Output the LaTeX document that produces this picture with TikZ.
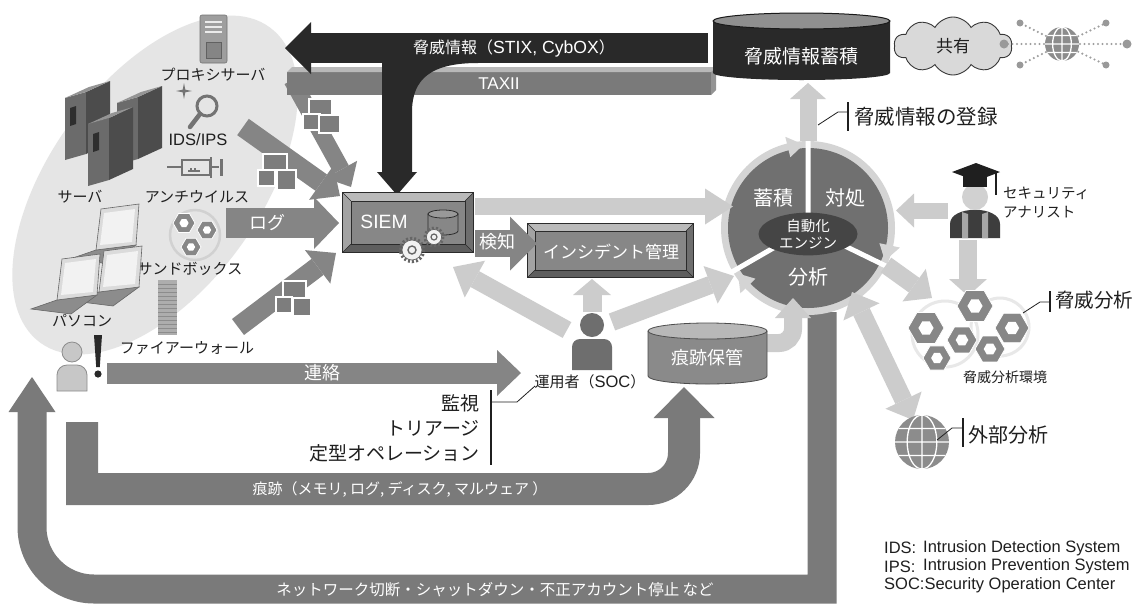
\documentclass[tikz,border=0pt]{standalone}
\usepackage{fontspec}
\setmainfont{Noto Sans CJK JP}
\newfontfamily\lat{Liberation Sans}[Scale=1.1]
\usetikzlibrary{arrows.meta,shapes.geometric,shapes.symbols,calc}

\colorlet{zone}{black!10}
\colorlet{ink}{black!88}
\colorlet{blk}{black!84}
\colorlet{midg}{black!48}
\colorlet{dkg}{black!52}
\colorlet{lightg}{black!20}
\colorlet{circg}{black!56}
\colorlet{ringg}{black!17}
\colorlet{engg}{black!73}
\colorlet{boxg}{black!47}
\colorlet{bvT}{black!27}
\colorlet{bvL}{black!36}
\colorlet{bvR}{black!57}
\colorlet{bvB}{black!63}
\colorlet{edge}{black!83}
\colorlet{iconc}{black!55}
\colorlet{nutc}{black!47}
\colorlet{logc}{black!51}
\colorlet{globec}{black!45}

\newcommand\fs[1]{\fontsize{#1}{\dimexpr #1pt*6/5\relax}\selectfont}

% framed panel with bevelled edges around a named node
\newcommand\bevelbox[2]{%
  \fill[boxg] (#1.north west) rectangle (#1.south east);
  \fill[bvT] (#1.north west) -- (#1.north east) -- ([shift={(-#2,#2)}]#1.north east) -- ([shift={(#2,#2)}]#1.north west) -- cycle;
  \fill[bvL] (#1.north west) -- ([shift={(#2,#2)}]#1.north west) -- ([shift={(#2,-#2)}]#1.south west) -- (#1.south west) -- cycle;
  \fill[bvR] (#1.north east) -- ([shift={(-#2,#2)}]#1.north east) -- ([shift={(-#2,-#2)}]#1.south east) -- (#1.south east) -- cycle;
  \fill[bvB] (#1.south west) -- ([shift={(#2,-#2)}]#1.south west) -- ([shift={(-#2,-#2)}]#1.south east) -- (#1.south east) -- cycle;
  \draw[edge, line width=0.5pt] (#1.north west) -- ([shift={(#2,#2)}]#1.north west)
     (#1.north east) -- ([shift={(-#2,#2)}]#1.north east)
     (#1.south west) -- ([shift={(#2,-#2)}]#1.south west)
     (#1.south east) -- ([shift={(-#2,-#2)}]#1.south east);
  \draw[edge, line width=0.6pt] ([shift={(#2,#2)}]#1.north west) rectangle ([shift={(-#2,-#2)}]#1.south east);
  \draw[edge, line width=1pt] (#1.north west) rectangle (#1.south east);
}

\tikzset{
  fat/.style n args={3}{line width=#1pt,
    -{Triangle[length=#2pt 0 0, width=#3pt 0 0, line width=0pt 0 0]}},
  fatboth/.style n args={3}{line width=#1pt,
    {Triangle[length=#2pt 0 0, width=#3pt 0 0, line width=0pt 0 0]}-{Triangle[length=#2pt 0 0, width=#3pt 0 0, line width=0pt 0 0]}},
  lbl/.style={inner sep=0pt, text=ink, font=\fs{#1}},
  lbl/.default=15,
  wlbl/.style={inner sep=0pt, text=white, font=\fs{#1}},
  wlbl/.default=17,
  logsq/.style={fill=logc, draw=white, line width=1.2pt},
  leader/.style={ink, line width=0.8pt},
  tick/.style={ink, line width=1.6pt},
  pics/hexnut/.style={code={
    \fill[nutc, draw=white, line width=0.8pt] (0:#1) -- (60:#1) -- (120:#1) -- (180:#1) -- (240:#1) -- (300:#1) -- cycle;
    \fill[white] (0:0.42*#1) -- (60:0.42*#1) -- (120:0.42*#1) -- (180:0.42*#1) -- (240:0.42*#1) -- (300:0.42*#1) -- cycle;}},
  pics/globe/.style={code={
    \fill[globec] (0,0) circle (#1);
    \begin{scope}
      \clip (0,0) circle (#1);
      \draw[white, line width=1.3pt] (-#1,0) -- (#1,0) (0,-#1) -- (0,#1)
        (-#1,-0.5*#1) -- (#1,-0.5*#1) (-#1,0.5*#1) -- (#1,0.5*#1)
        (0,0) ellipse [x radius=0.55*#1, y radius=#1];
    \end{scope}}},
  pics/server/.style={code={
    \fill[black!58] (0,0) -- (0,-62) -- (21,-68) -- (21,-6) -- cycle;
    \fill[black!70] (21,-6) -- (21,-68) -- (45,-79) -- (45,-17) -- cycle;
    \fill[black!42] (0,-62) -- (24,-73) -- (45,-79) -- (21,-68) -- cycle;
    \fill[black!82] (5,-52) -- (11,-54) -- (11,-36) -- (5,-34) -- cycle;}},
  pics/laptop/.style={code={
    \filldraw[fill=black!45, draw=black!60, line width=0.6pt] (0,0) -- (40,-5) -- (14,14) -- (-26,9) -- cycle;
    \filldraw[fill=black!14, draw=black!60, line width=0.6pt] (0,0) -- (5,-41) -- (43,-46) -- (40,-5) -- cycle;
    \fill[black!5] (4,-5) -- (8,-37) -- (39,-41) -- (36,-8) -- cycle;}},
}

\begin{document}
\begin{tikzpicture}[x=1pt,y=-1pt]
\useasboundingbox (0,0) rectangle (1141,606);
\fill[white] (0,0) rectangle (1141,606);

% ---------- monitored zone ----------
\fill[zone, rotate around={54:(155,185)}] (155,185) ellipse [x radius=195, y radius=105];

% proxy server
\filldraw[fill=black!38, draw=black!55, line width=0.6pt, rounded corners=2pt] (200,15) rectangle (227,63);
\draw[black!8, line width=1.4pt] (205,22) -- (222,22) (205,27) -- (222,27) (205,32) -- (222,32);
\filldraw[fill=black!48, draw=black!62, line width=1pt] (206,42) rectangle (221,58);
\node[lbl] (proxy) at (213,75) {プロキシサーバ};

% IDS/IPS
\draw[iconc, line width=3pt] (207,106) circle (10);
\draw[iconc, line width=4.5pt, line cap=round] (200,114) -- (190,127);
\fill[iconc] (184,83) -- (185.3,89.7) -- (192,91) -- (185.3,92.3) -- (184,99) -- (182.7,92.3) -- (176,91) -- (182.7,89.7) -- cycle;
\node[lbl] (ids) at (198,140) {\lat IDS/IPS};

% antivirus
\draw[iconc, line width=1.6pt] (167,167) -- (182,167);
\draw[iconc, line width=2pt] (182,160) rectangle (210,175);
\draw[iconc, line width=1.2pt] (188,171) -- (200,171) (191,168) -- (191,171) (195,168) -- (195,171);
\draw[iconc, line width=2.5pt] (211,157) -- (211,178);
\draw[iconc, line width=2pt] (211,167) -- (219,167);
\draw[iconc, line width=3pt] (221,159) -- (221,176);
\node[lbl] (av) at (197,197) {アンチウイルス};

% sandbox
\draw[black!18, line width=2.5pt] (195,235) circle (25);
\pic at (184,223) {hexnut=11};
\pic at (207,230) {hexnut=10};
\pic at (191,247) {hexnut=10};
\node[lbl] (sbx) at (190,269) {サンドボックス};

% firewall
\fill[black!32] (158,280) rectangle (177,335);
\foreach \yy in {284,288,...,332} \draw[black!45, line width=0.6pt] (158,\yy) -- (177,\yy);
\node[lbl] (fw) at (187,348) {ファイアーウォール};

% servers
\pic at (65,160) {server};
\pic at (117,165) {server};
\pic at (88,186) {server};
\node[lbl] (srv) at (80,197) {サーバ};

% PCs
\pic at (96,250) {laptop};
\pic at (99,292) {laptop};
\pic at (57,300) {laptop};
\node[lbl] (pc) at (82,321) {パソコン};

% user with alert
\filldraw[fill=black!22, draw=black!45, line width=0.8pt] (72,352) circle (10);
\filldraw[fill=black!22, draw=black!45, line width=0.8pt] (57,391) -- (57,375) arc[start angle=180, end angle=270, radius=10] -- (77,365) arc[start angle=270, end angle=360, radius=10] -- (87,391) -- cycle;
\fill[blk] (94,335) -- (102,335) -- (99.8,367) -- (96.2,367) -- cycle;
\fill[blk] (98,374) circle (3.6);

% ---------- response / evidence / contact ----------
\coordinate (retS) at (822,312);
\coordinate (retE) at (32,377);
\draw[dkg, line width=29pt, -{Triangle[length=35pt 0 0, width=47pt 0 0, line width=0pt 0 0]}]
  (retS) -- (822,589) -- (94,589) arc[start angle=90, end angle=180, radius=62] -- (retE);
\node[wlbl=15.5] (retlbl) at (495,590) {ネットワーク切断・シャットダウン・不正アカウント停止 など};

\coordinate (evS) at (82,422);
\coordinate (evE) at (684,387);
\draw[dkg, line width=32pt, -{Triangle[length=31pt 0 0, width=61pt 0 0, line width=0pt 0 0]}]
  (evS) -- (82,489) -- (648,489) arc[start angle=90, end angle=0, radius=36] -- (evE);
\node[wlbl=15] (evlbl) at (400,489) {痕跡（メモリ, ログ, ディスク, マルウェア ）};

\coordinate (cntS) at (107,373);
\coordinate (cntE) at (521,373);
\draw[midg, fat={21}{24}{46}] (cntS) -- (cntE);
\node[wlbl=18] (cntlbl) at (322,373) {連絡};

% ---------- log feeds into SIEM ----------
\coordinate (prxS) at (292,80);  \coordinate (prxE) at (351,187);
\coordinate (idsS) at (243,127); \coordinate (idsE) at (340,196);
\coordinate (logS) at (226,223); \coordinate (logE) at (339,223);
\coordinate (fwS) at (238,327);  \coordinate (fwE) at (336,253);
\draw[midg, fat={17}{20}{36}] (prxS) -- (prxE);
\draw[midg, fat={20}{23}{42}] (idsS) -- (idsE);
\draw[midg, fat={30}{25}{52}] (logS) -- (logE);
\node[wlbl=18] (loglbl) at (267,223) {ログ};
\draw[midg, fat={20}{23}{42}] (fwS) -- (fwE);

\filldraw[logsq] (309,99) rectangle (332,122);
\filldraw[logsq] (303,114) rectangle (320,130);
\filldraw[logsq] (319,115) rectangle (340,133);
\filldraw[logsq] (263,154) rectangle (287,178);
\filldraw[logsq] (258,170) rectangle (275,186);
\filldraw[logsq] (277,170) rectangle (296,190);
\filldraw[logsq] (283,281) rectangle (306,304);
\filldraw[logsq] (276,297) rectangle (292,313);
\filldraw[logsq] (293,298) rectangle (311,316);

% ---------- TAXII channel ----------
\fill[black!52] (287,72) rectangle (711,95);
\fill[black!28] (287,72) -- (292,67) -- (716,67) -- (711,72) -- cycle;
\fill[black!42] (711,72) -- (716,67) -- (716,90) -- (711,95) -- cycle;
\node[wlbl=15.5] (taxii) at (499,84) {\lat TAXII};

% ---------- threat intelligence feed ----------
\coordinate (siemIn) at (397,195);
\fill[blk] (382,50) -- (382,172) -- (377,172) -- (siemIn) -- (417,172) -- (412,172) -- (412,112)
  .. controls (412,78) and (432,63) .. (478,63) -- (478,50) -- cycle;
\coordinate (stixS) at (708,48);
\coordinate (stixE) at (285,48);
\draw[blk, fat={30}{26}{52}] (stixS) -- (stixE);
\node[wlbl=16] (stixlbl) at (514,48) {脅威情報（{\lat STIX, CybOX}）};

% threat store
\fill[blk] (713,21) -- (713,73) arc[start angle=180, end angle=0, x radius=88.5, y radius=7] -- (890,21) -- cycle;
\filldraw[fill=black!44, draw=black!90, line width=1pt] (801.5,21) ellipse [x radius=88.5, y radius=8];
\node[wlbl=19] (thrdb) at (801.5,56) {脅威情報蓄積};

% sharing
\node[cloud, cloud puffs=10, cloud puff arc=120, aspect=2.1, draw=black!78, fill=black!15,
  line width=0.9pt, minimum width=118pt, minimum height=58pt, inner sep=0pt,
  font=\fs{17}, text=ink] (share) at (953,46) {共有};
\coordinate (gnet) at (1062,44);
\draw[black!38, line width=2.4pt, dash pattern=on 0pt off 4.5pt, line cap=round]
  (gnet) -- (1004,44) (gnet) -- (1127,44) (gnet) -- (1020,23) (gnet) -- (1020,65)
  (gnet) -- (1106,23) (gnet) -- (1106,65);
\fill[black!40] (1004,44) circle (4.5) (1127,44) circle (4.5) (1020,23) circle (3.5)
  (1020,65) circle (3.5) (1106,23) circle (3.5) (1106,65) circle (3.5);
\pic at (gnet) {globe=17};

% ---------- SIEM ----------
\node[minimum width=130pt, minimum height=59pt, inner sep=0pt] (siem) at (408,222.5) {};
\bevelbox{siem}{8}
\node[wlbl=17.5] (siemlbl) at (384,222) {\lat SIEM};
\filldraw[fill=boxg, draw=edge, line width=0.8pt] (428,214) -- (428,231) arc[start angle=180, end angle=0, x radius=15, y radius=4] -- (458,214) -- cycle;
\filldraw[fill=black!40, draw=edge, line width=0.8pt] (443,214) ellipse [x radius=15, y radius=4];
\draw[black!60, line width=3pt, dash pattern=on 2pt off 2pt] (434,237) circle (9);
\filldraw[fill=black!5, draw=black!60, line width=0.7pt] (434,237) circle (7.6);
\draw[black!60, line width=1.2pt] (434,237) circle (3);
\draw[black!60, line width=3.5pt, dash pattern=on 2pt off 2pt] (412,250) circle (11.5);
\filldraw[fill=black!5, draw=black!60, line width=0.7pt] (412,250) circle (10);
\draw[black!60, line width=1.4pt] (412,250) circle (4);

% ---------- incident management ----------
\node[minimum width=165pt, minimum height=53pt, inner sep=0pt] (inc) at (610.5,250.5) {};
\bevelbox{inc}{7}
\node[wlbl=17] (inclbl) at (611,252) {インシデント管理};
\coordinate (detS) at (475,243.5);
\coordinate (detE) at (537,243.5);
\draw[midg, fat={27}{27}{54}] (detS) -- (detE);
\node[wlbl=18] (detlbl) at (497,242) {検知};

% ---------- automation cycle ----------
\coordinate (cyc) at (808,228);
\fill[ringg] (cyc) circle (87);
\fill[circg] (cyc) circle (80);
\fill[ringg] ($(cyc)+(-93:83.5)$) -- ($(cyc)+(-104:73)$) -- ($(cyc)+(-104:94)$) -- cycle;
\fill[ringg] ($(cyc)+(23:83.5)$) -- ($(cyc)+(12:73)$) -- ($(cyc)+(12:94)$) -- cycle;
\fill[ringg] ($(cyc)+(147:83.5)$) -- ($(cyc)+(136:73)$) -- ($(cyc)+(136:94)$) -- cycle;
\draw[white, line width=5pt] (cyc) -- ++(0,-89) (cyc) -- ++(150:89) (cyc) -- ++(26:89);
\node[ellipse, fill=engg, minimum width=99pt, minimum height=40pt, inner sep=0pt,
  text=white, align=center, font=\fontsize{14.5}{17.5}\selectfont] (eng) at (808,234) {自動化\\エンジン};
\node[wlbl=20] (stor) at (773,198) {蓄積};
\node[wlbl=20] (resp) at (845,198) {対処};
\node[wlbl=20] (anl) at (808,277) {分析};

% ---------- light flows ----------
\coordinate (toCycA) at (733,206.5);
\draw[lightg, fat={17}{28}{36}] (475,206.5) -- (toCycA);
\coordinate (opc) at (592,325);
\coordinate (opToSiem) at (453,267);
\coordinate (opToInc) at (592,279);
\coordinate (opToCyc) at (734,276);
\draw[lightg, fat={18}{25}{42}] (567,330) -- (opToSiem);
\draw[lightg, fat={19}{16}{38}] (592,312) -- (opToInc);
\draw[lightg, fat={18}{25}{40}] (612,322) -- (opToCyc);
\coordinate (evToCyc) at (793,298);
\draw[lightg, line width=18pt, -{Triangle[length=20pt 0 0, width=36pt 0 0, line width=0pt 0 0]}]
  (760,343) -- (779,343) arc[start angle=90, end angle=0, radius=14] -- (evToCyc);
\coordinate (cycTop) at (808,141);
\coordinate (dbIn) at (808,83);
\draw[lightg, fat={17}{16}{36}] (cycTop) -- (dbIn);
\coordinate (anaL) at (948,210.5);
\draw[lightg, fat={16}{18}{34}] (anaL) -- (896,210.5);
\coordinate (envTop) at (968,296);
\draw[lightg, fat={18}{17}{38}] (968,240) -- (envTop);
\draw[lightg, fat={18}{22}{40}] (886,265) -- (932,298);
\coordinate (extTop) at (913,420);
\draw[lightg, fatboth={18}{22}{40}] (852,292) -- (extTop);

% evidence store
\fill[black!46] (648,331) -- (648,376) arc[start angle=180, end angle=0, x radius=59.5, y radius=8] -- (767,331) -- cycle;
\draw[black!70, line width=0.8pt] (648,331) -- (648,376) arc[start angle=180, end angle=0, x radius=59.5, y radius=8] -- (767,331);
\filldraw[fill=black!28, draw=black!70, line width=0.8pt] (707.5,331) ellipse [x radius=59.5, y radius=8];
\node[wlbl=18] (evdb) at (707.5,358) {痕跡保管};

% operator
\fill[black!57] (opc) circle (12);
\fill[black!57] (572,370) -- (572,347) arc[start angle=180, end angle=270, radius=8] -- (604,339) arc[start angle=270, end angle=360, radius=8] -- (612,370) -- cycle;
\node[lbl] (oplbl) at (590,382) {運用者（{\lat SOC}）};

% operator duties
\node[lbl=19, anchor=east] (duty1) at (480,403) {監視};
\node[lbl=19, anchor=east] (duty2) at (480,428) {トリアージ};
\node[lbl=19, anchor=east] (duty3) at (480,453) {定型オペレーション};
\draw[tick] (491,390) -- (491,465);
\draw[leader] (491,402) -- (517,402) -- (535,386);

% analyst
\fill[black!76] (950,238) -- (950,224) .. controls (950,205) and (1000,205) .. (1000,224) -- (1000,238) -- cycle;
\fill[black!35] (962,212) -- (968,214) -- (968,238) -- (962,238) -- cycle;
\fill[black!35] (982,214) -- (988,212) -- (988,238) -- (982,238) -- cycle;
\fill[black!18] (975,197) circle (13);
\fill[black!88] (963,176) rectangle (987,187);
\fill[black!88] (952,172) -- (976,163) -- (1000,172) -- (976,181) -- cycle;
\draw[black!88, line width=2pt] (996,173) -- (996,195);
\node[lbl=14.5, anchor=west] (ana1) at (1003,193) {セキュリティ};
\node[lbl=14.5, anchor=west] (ana2) at (1003,212) {アナリスト};

% analysis environment
\draw[black!9, line width=3pt] (945,334) circle (33);
\draw[black!9, line width=3pt] (1000,327) circle (29);
\pic at (926,328) {hexnut=18};
\pic at (975,306) {hexnut=18};
\pic at (1012,328) {hexnut=17};
\pic at (962,340) {hexnut=15};
\pic at (990,349) {hexnut=15};
\pic at (937,358) {hexnut=14};
\node[lbl=14] (envlbl) at (1005,377) {脅威分析環境};

% external analysis
\pic at (922,442) {globe=27};

% bracket labels
\draw[leader] (818,125) -- (838,112) -- (848,112);
\draw[tick] (848,102) -- (848,131);
\node[lbl=20.5, anchor=west] (reg) at (854,117) {脅威情報の登録};
\draw[leader] (1023,313) -- (1040,302) -- (1050,302);
\draw[tick] (1050,291) -- (1050,312);
\node[lbl=19.5, anchor=west] (thra) at (1055,300) {脅威分析};
\draw[leader] (937,440) -- (952,428) -- (963,428);
\draw[tick] (963,418) -- (963,447);
\node[lbl=20, anchor=west] (exta) at (968,435) {外部分析};

% abbreviations
\node[lbl, anchor=west, font=\lat\fs{15}] (k1) at (884,548) {IDS:};
\node[lbl, anchor=west, font=\lat\fs{15}] (v1) at (923,548) {Intrusion Detection System};
\node[lbl, anchor=west, font=\lat\fs{15}] (k2) at (884,566.5) {IPS:};
\node[lbl, anchor=west, font=\lat\fs{15}] (v2) at (923,566.5) {Intrusion Prevention System};
\node[lbl, anchor=west, font=\lat\fs{15}] (k3) at (884,585) {SOC:Security Operation Center};
\end{tikzpicture}
\end{document}
